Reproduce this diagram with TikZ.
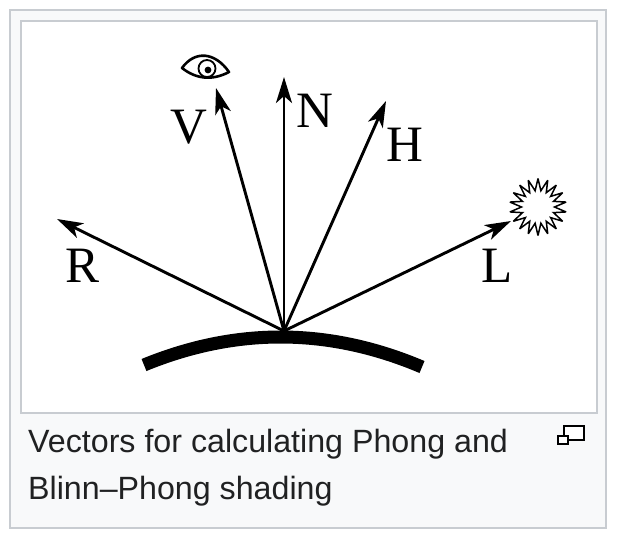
\documentclass[tikz,border=0pt]{standalone}
\usepackage{fontspec}
\setmainfont{Liberation Serif}
\newfontfamily\capfont{Liberation Sans}
\usetikzlibrary{arrows.meta}
\definecolor{frame}{HTML}{C8CCD1}
\definecolor{panel}{HTML}{F8F9FA}
\definecolor{captext}{HTML}{202122}
\tikzset{
  x=1pt,y=-1pt,
  vec/.style={line width=2.9pt,-{Stealth[length=26pt,width=16pt,inset=7pt]}},
  letter/.style={font=\fontsize{51}{51}\selectfont,anchor=base,inner sep=0pt,text=black},
  captionline/.style={font=\capfont\fontsize{32.2}{32.2}\selectfont,anchor=base west,inner sep=0pt,text=captext},
  framebox/.style={draw=frame,line width=2pt},
  icon/.style={draw=black,line width=2.2pt},
}
\begin{document}
\begin{tikzpicture}
\useasboundingbox (0,0) rectangle (622,544);
\fill[white] (0,0) rectangle (622,544);
\draw[framebox,fill=panel] (10,10) rectangle (606,528);
\draw[framebox,fill=white] (21,21) rectangle (597,413);

% surface
\draw[line width=13pt,line cap=butt] (144,365) .. controls (236.7,327) and (329.3,327.7) .. (422,367);

% vectors
\coordinate (O) at (284,331);
\coordinate (Rt) at (57,219);
\coordinate (Vt) at (216,88);
\coordinate (Nt) at (284,77);
\coordinate (Ht) at (386,101);
\coordinate (Lt) at (511,221);
\draw[vec] (O) -- (Rt);
\draw[vec] (O) -- (Vt);
\draw[vec] (O) -- (Nt);
\draw[vec] (O) -- (Ht);
\draw[vec] (O) -- (Lt);

% labels
\node[letter] (lR) at (83,282) {R};
\node[letter] (lV) at (189,143) {V};
\node[letter] (lN) at (315,127) {N};
\node[letter] (lH) at (405,161) {H};
\node[letter] (lL) at (497,282) {L};

% eye
\draw[line width=2.6pt,line join=round,fill=white] (182,68) .. controls (195,50) and (215,52) .. (229,72) .. controls (212,81) and (196,79) .. (182,68) -- cycle;
\draw[line width=1.8pt] (207,68.5) circle (8.5);
\fill (208,70) circle (3.4);

% star
\draw[line width=1.5pt,line join=miter,miter limit=4,fill=white]
  plot[samples at={0,...,35},variable=\k]
  ({538+(mod(\k,2)==0 ? 28.5 : 16.5)*cos(\k*10-90)},{207+(mod(\k,2)==0 ? 28.5 : 16.5)*sin(\k*10-90)}) -- cycle;

% caption
\node[captionline] (c1) at (28,452) {Vectors for calculating Phong and};
\node[captionline] (c2) at (28,499) {Blinn–Phong shading};

% enlarge icon
\draw[icon,fill=white] (564,426) rectangle (584,440);
\draw[icon,fill=white] (558,436) rectangle (568,444);
\end{tikzpicture}
\end{document}
